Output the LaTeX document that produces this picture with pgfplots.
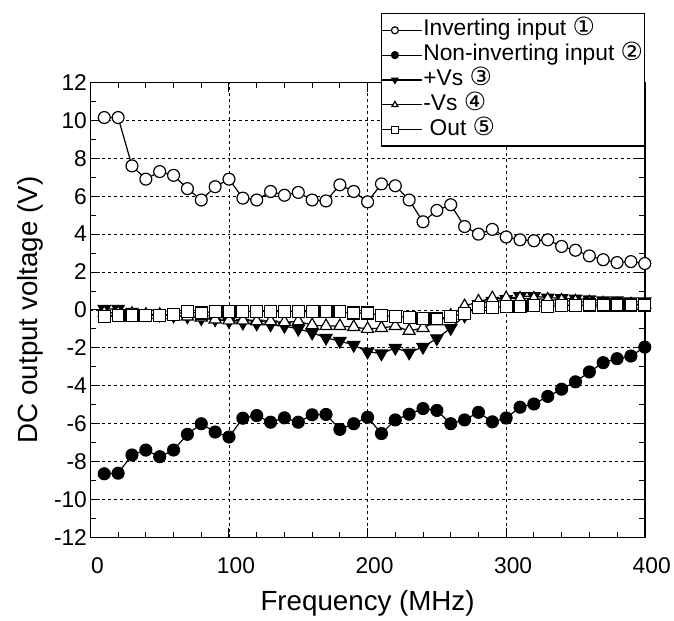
\documentclass[border=0pt]{standalone}
\usepackage{pgfplots}
\pgfplotsset{compat=1.18}
\usepackage{fontspec}
\setmainfont{Liberation Sans}
\newfontfamily\sym{DejaVu Sans}[Scale=1.1]

\pgfplotstableread{
x y
10 10.15
20 10.15
30 7.6
40 6.9
50 7.3
60 7.1
70 6.4
80 5.8
90 6.5
100 6.9
110 5.9
120 5.8
130 6.25
140 6.05
150 6.2
160 5.8
170 5.75
180 6.6
190 6.25
200 5.7
210 6.65
220 6.55
230 5.8
240 4.65
250 5.25
260 5.55
270 4.4
280 4.0
290 4.25
300 3.85
310 3.7
320 3.65
330 3.7
340 3.35
350 3.15
360 2.85
370 2.65
380 2.5
390 2.55
400 2.45
}\inv

\pgfplotstableread{
x y
10 -8.64
20 -8.61
30 -7.65
40 -7.39
50 -7.74
60 -7.39
70 -6.56
80 -6.0
90 -6.44
100 -6.70
110 -5.71
120 -5.57
130 -5.92
140 -5.69
150 -5.92
160 -5.53
170 -5.51
180 -6.30
190 -6.0
200 -5.66
210 -6.52
220 -5.8
230 -5.5
240 -5.2
250 -5.3
260 -6.0
270 -5.8
280 -5.4
290 -5.9
300 -5.7
310 -5.13
320 -4.96
330 -4.56
340 -4.18
350 -3.79
360 -3.27
370 -2.78
380 -2.57
390 -2.43
400 -1.96
}\noninv

\pgfplotstableread{
x y
10 0.05
20 0.05
30 -0.1
40 -0.2
50 -0.25
60 -0.3
70 -0.35
80 -0.45
90 -0.5
100 -0.6
110 -0.68
120 -0.72
130 -0.77
140 -0.85
150 -1.0
160 -1.2
170 -1.47
180 -1.64
190 -1.85
200 -2.2
210 -2.3
220 -2.0
230 -2.25
240 -1.95
250 -1.5
260 -0.96
270 -0.3
280 0.3
290 0.47
300 0.57
310 0.72
320 0.72
330 0.65
340 0.62
350 0.6
360 0.55
370 0.5
380 0.5
390 0.45
400 0.45
}\vsp

\pgfplotstableread{
x y
10 -0.15
20 -0.15
30 -0.2
40 -0.25
50 -0.25
60 -0.3
70 -0.35
80 -0.4
90 -0.5
100 -0.55
110 -0.55
120 -0.6
130 -0.6
140 -0.65
150 -0.6
160 -0.8
170 -0.85
180 -0.85
190 -0.9
200 -1.0
210 -0.95
220 -0.85
230 -1.1
240 -0.95
250 -0.6
260 -0.3
270 0.2
280 0.45
290 0.62
300 0.62
310 0.6
320 0.6
330 0.55
340 0.5
350 0.45
360 0.4
370 0.35
380 0.3
390 0.3
400 0.3
}\vsm

\pgfplotstableread{
x y
10 -0.33
20 -0.28
30 -0.28
40 -0.28
50 -0.28
60 -0.23
70 -0.1
80 -0.16
90 -0.07
100 -0.07
110 -0.07
120 -0.07
130 -0.07
140 -0.07
150 -0.07
160 -0.1
170 -0.1
180 -0.1
190 -0.16
200 -0.16
210 -0.3
220 -0.35
230 -0.38
240 -0.44
250 -0.47
260 -0.35
270 -0.18
280 0.14
290 0.14
300 0.18
310 0.18
320 0.23
330 0.18
340 0.23
350 0.23
360 0.26
370 0.26
380 0.26
390 0.26
400 0.26
}\outp

\begin{document}
\begin{tikzpicture}
\begin{axis}[
  name=ax,
  scale only axis, width=558bp, height=458bp,
  xmin=0, xmax=400, ymin=-12, ymax=12,
  xtick={0,100,200,300,400}, ytick={-12,-10,...,12},
  minor x tick num=4, minor y tick num=1,
  tick align=inside, major tick length=10bp, minor tick length=6bp,
  xmajorgrids, ymajorgrids,
  major grid style={black, line width=0.9bp, dash pattern=on 3bp off 3bp},
  axis line style={black, line width=1.5bp},
  every tick/.style={black, line width=1bp},
  /pgf/number format/assume math mode=true,
  tick label style={font=\fontsize{23}{25}\selectfont},
  xticklabel style={yshift=-17bp, xshift=7bp},
  xlabel={Frequency (MHz)},
  ylabel={DC output voltage (V)},
  label style={font=\fontsize{28}{30}\selectfont},
  xlabel style={at={(axis description cs:0.5,0)}, anchor=base, yshift=-74bp},
  ylabel style={at={(axis description cs:-0.108,0.5)}, anchor=center},
  legend style={at={(1,1.152)}, anchor=north east, draw=black, line width=1.2bp,
    fill=white, font=\fontsize{23}{24}\selectfont, row sep=0bp,
    inner xsep=0bp, inner ysep=4bp,
    nodes={inner sep=1bp, text height=17bp, text depth=6bp}},
  legend cell align=left,
  legend image code/.code={
    \draw[#1] (0bp,0bp) -- (40bp,0bp);
    \draw[#1, mark size=3.5bp] plot coordinates {(13bp,0bp)};
  },
  every axis plot/.append style={black, line width=1.2bp},
]
\addplot[mark=*, mark size=6bp, mark options={fill=white, draw=black}] table {\inv};
\addlegendentry{Inverting input {\sym ①}}
\addplot[mark=*, mark size=6bp, mark options={fill=black}] table {\noninv};
\addlegendentry{Non-inverting input {\sym ②}}
\addplot[mark=triangle*, mark size=7bp, mark options={fill=black, rotate=180}] table {\vsp};
\addlegendentry{+Vs {\sym ③}}
\addplot[mark=triangle*, mark size=7bp, mark options={fill=white}] table {\vsm};
\addlegendentry{-Vs {\sym ④}}
\addplot[mark=square*, mark size=6bp, mark options={fill=white}] table {\outp};
\addlegendentry{\ Out {\sym ⑤}}
\end{axis}
\path ([shift={(-91bp,-81bp)}]ax.south west) rectangle +(674bp,622bp);
\end{tikzpicture}
\end{document}
